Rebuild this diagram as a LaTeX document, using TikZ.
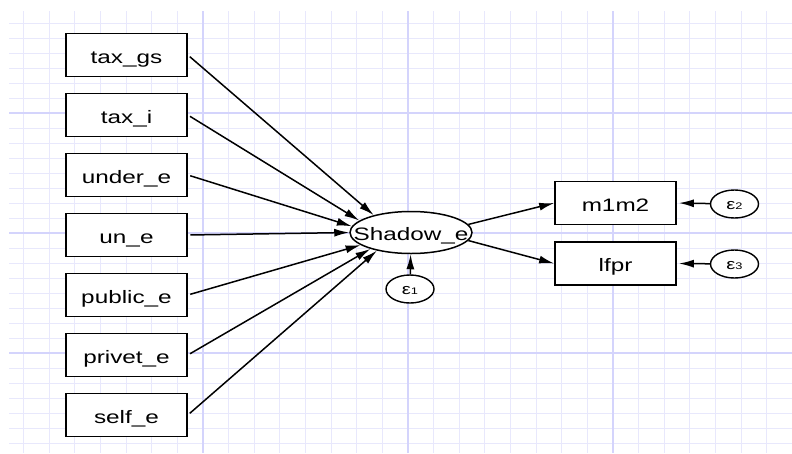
\documentclass[tikz,border=0pt]{standalone}
\usepackage{fontspec}
\setmainfont{Liberation Sans}[FakeStretch=1.35]
\usetikzlibrary{arrows.meta,shapes.geometric}
\definecolor{gridminor}{RGB}{232,232,252}
\definecolor{gridmajor}{RGB}{212,212,252}
\begin{document}
\begin{tikzpicture}[x=1pt,y=-1pt,
  var/.style={draw, line width=1.7pt, minimum width=121pt, minimum height=43pt,
    inner sep=0pt, text height=17pt, text depth=1pt, font=\fontsize{18}{18}\selectfont},
  lat/.style={draw, ellipse, line width=1.5pt, minimum width=122pt, minimum height=42pt,
    inner sep=0pt, text height=17pt, text depth=1pt, font=\fontsize{18}{18}\selectfont},
  err/.style={draw, ellipse, line width=1.4pt, minimum width=48pt, minimum height=28pt,
    inner sep=0pt, text height=10pt, text depth=0pt, font=\fontsize{15}{15}\selectfont},
  link/.style={line width=1.5pt, -{Latex[length=15pt,width=8pt]}}
]
\useasboundingbox (0,0) rectangle (792,453);
\fill[white] (0,0) rectangle (792,453);
% grid
\foreach \k in {-7,...,22}{
  \pgfmathsetmacro\xx{203+25.625*\k}
  \draw[gridminor, line width=1pt] (\xx,11) -- (\xx,453);
}
\foreach \k in {-6,...,22}{
  \pgfmathsetmacro\yy{113+15*\k}
  \draw[gridminor, line width=1pt] (9,\yy) -- (792,\yy);
}
\foreach \k in {0,8,16}{
  \pgfmathsetmacro\xx{203+25.625*\k}
  \draw[gridmajor, line width=1.3pt] (\xx,11) -- (\xx,453);
}
\foreach \k in {0,8,16}{
  \pgfmathsetmacro\yy{113+15*\k}
  \draw[gridmajor, line width=1.3pt] (9,\yy) -- (792,\yy);
}
% observed exogenous
\node[var, fill=white] (g)  at (126.5,55)  {tax\_gs};
\node[var, fill=white] (i)  at (126.5,115) {tax\_i};
\node[var, fill=white] (u)  at (126.5,175) {under\_e};
\node[var, fill=white] (n)  at (126.5,235) {un\_e};
\node[var, fill=white] (p)  at (126.5,295) {public\_e};
\node[var, fill=white] (v)  at (126.5,355) {privet\_e};
\node[var, fill=white] (s)  at (126.5,415) {self\_e};
% latent
\node[lat, fill=white] (sh) at (411,232.5) {\makebox[0pt]{Shadow\_e}};
\node[err, fill=white] (e1) at (410,289) {\makebox[0pt]{ε\raisebox{-0.5pt}{\fontsize{9.5}{9.5}\selectfont 1}}};
% outcomes
\node[var, fill=white] (m) at (615.5,203) {m1m2};
\node[var, fill=white] (l) at (615.5,263.5) {lfpr};
\node[err, fill=white] (e2) at (734.5,204) {\makebox[0pt]{ε\raisebox{-0.5pt}{\fontsize{9.5}{9.5}\selectfont 2}}};
\node[err, fill=white] (e3) at (734.5,264) {\makebox[0pt]{ε\raisebox{-0.5pt}{\fontsize{9.5}{9.5}\selectfont 3}}};
% paths
\draw[link, shorten <=2.5pt] (g.east) -- (sh.155);
\draw[link, shorten <=2.5pt] (i.east) -- (sh.167);
\draw[link, shorten <=2.5pt] (u.east) -- (sh.174);
\draw[link, shorten <=2.5pt] (n.east) -- (sh.180);
\draw[link, shorten <=2.5pt] (p.east) -- (sh.194);
\draw[link, shorten <=2.5pt] (v.east) -- (sh.202);
\draw[link, shorten <=2.5pt] (s.east) -- (sh.208);
\draw[link] (e1) -- (sh);
\draw[link] (sh.8) -- (m.west);
\draw[link] (sh.-8) -- (l.west);
\draw[link, shorten >=2pt] (e2) -- (m.east);
\draw[link, shorten >=2pt] (e3) -- (l.east);
\end{tikzpicture}
\end{document}
